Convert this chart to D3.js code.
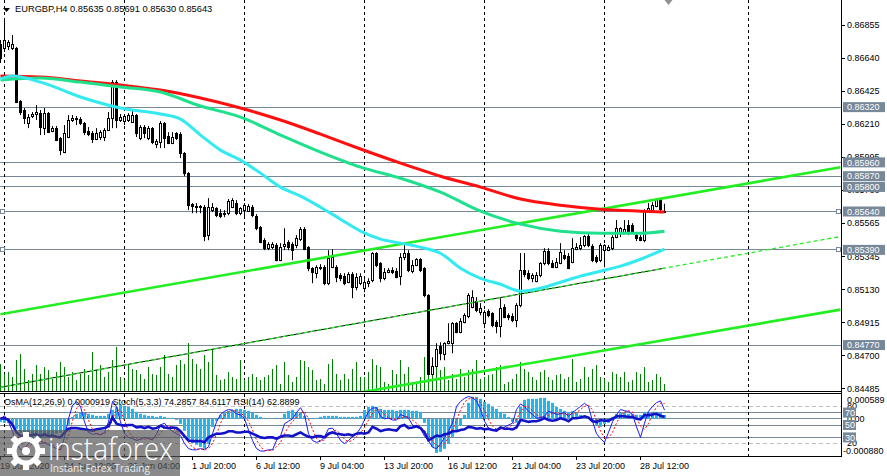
<!DOCTYPE html>
<html>
<head>
<meta charset="utf-8">
<script src="https://d3js.org/d3.v7.min.js"></script>
<style>
  html, body { margin: 0; padding: 0; background: #fff; }
  svg { display: block; }
  text { font-family: 'Liberation Sans', Arial, sans-serif; font-size: 9px; }
  text.title { font-size: 9.3px; }
</style>
</head>
<body>
<div id="app"></div>
<script>
// EURGBP H4 candles, one per bar: [open, high, low, close]
const candles = [
  [0.86731, 0.86757, 0.86607, 0.86640], [0.86705, 0.86901, 0.86679, 0.86757], [0.86712, 0.86757, 0.86692, 0.86738],
  [0.86699, 0.86790, 0.86692, 0.86725], [0.86699, 0.86712, 0.86346, 0.86353], [0.86359, 0.86366, 0.86268, 0.86288],
  [0.86301, 0.86314, 0.86210, 0.86249], [0.86216, 0.86275, 0.86183, 0.86255], [0.86262, 0.86288, 0.86249, 0.86275],
  [0.86275, 0.86333, 0.86236, 0.86288], // 9
  [0.86281, 0.86301, 0.86138, 0.86190], [0.86183, 0.86314, 0.86138, 0.86281], [0.86281, 0.86288, 0.86151, 0.86157],
  [0.86164, 0.86197, 0.86157, 0.86183], [0.86183, 0.86197, 0.86099, 0.86105], [0.86118, 0.86125, 0.86007, 0.86040],
  [0.86027, 0.86203, 0.86020, 0.86151], [0.86125, 0.86268, 0.86118, 0.86236], [0.86236, 0.86268, 0.86223, 0.86249],
  [0.86249, 0.86262, 0.86203, 0.86242], // 19
  [0.86242, 0.86255, 0.86203, 0.86216], [0.86216, 0.86223, 0.86138, 0.86157], [0.86164, 0.86190, 0.86131, 0.86144],
  [0.86151, 0.86164, 0.86086, 0.86112], [0.86112, 0.86183, 0.86105, 0.86151], [0.86125, 0.86170, 0.86105, 0.86157],
  [0.86125, 0.86183, 0.86099, 0.86170], [0.86170, 0.86288, 0.86164, 0.86249], [0.86249, 0.86496, 0.86183, 0.86483],
  [0.86483, 0.86496, 0.86183, 0.86236], // 29
  [0.86236, 0.86275, 0.86223, 0.86255], [0.86229, 0.86275, 0.86203, 0.86262], [0.86236, 0.86281, 0.86223, 0.86268],
  [0.86223, 0.86301, 0.86216, 0.86268], [0.86268, 0.86275, 0.86125, 0.86151], [0.86118, 0.86203, 0.86105, 0.86190],
  [0.86190, 0.86203, 0.86118, 0.86151], [0.86118, 0.86197, 0.86105, 0.86183], [0.86183, 0.86190, 0.86079, 0.86092],
  [0.86079, 0.86112, 0.86053, 0.86099], // 39
  [0.86092, 0.86229, 0.86053, 0.86216], [0.86216, 0.86223, 0.86053, 0.86118], [0.86131, 0.86157, 0.86079, 0.86086],
  [0.86086, 0.86157, 0.86079, 0.86125], [0.86151, 0.86157, 0.86105, 0.86118], [0.86144, 0.86157, 0.85988, 0.86020],
  [0.86020, 0.86027, 0.85870, 0.85890], [0.85890, 0.85897, 0.85649, 0.85682], [0.85688, 0.85695, 0.85629, 0.85675],
  [0.85675, 0.85695, 0.85629, 0.85668], // 49
  [0.85668, 0.85682, 0.85629, 0.85675], [0.85668, 0.85682, 0.85447, 0.85479], [0.85486, 0.85727, 0.85453, 0.85668],
  [0.85649, 0.85695, 0.85636, 0.85668], [0.85662, 0.85668, 0.85603, 0.85616], [0.85629, 0.85655, 0.85597, 0.85610],
  [0.85629, 0.85649, 0.85603, 0.85623], [0.85629, 0.85721, 0.85616, 0.85708], [0.85668, 0.85727, 0.85662, 0.85714],
  [0.85695, 0.85714, 0.85616, 0.85629], // 59
  [0.85629, 0.85668, 0.85616, 0.85662], [0.85649, 0.85695, 0.85603, 0.85682], [0.85642, 0.85688, 0.85636, 0.85675],
  [0.85668, 0.85682, 0.85603, 0.85616], [0.85610, 0.85623, 0.85518, 0.85531], [0.85538, 0.85545, 0.85434, 0.85440],
  [0.85453, 0.85466, 0.85388, 0.85401], [0.85401, 0.85440, 0.85388, 0.85427], [0.85408, 0.85440, 0.85395, 0.85427],
  [0.85421, 0.85434, 0.85316, 0.85323], // 69
  [0.85323, 0.85434, 0.85316, 0.85408], [0.85414, 0.85531, 0.85388, 0.85427], [0.85440, 0.85453, 0.85388, 0.85408],
  [0.85427, 0.85440, 0.85323, 0.85388], [0.85421, 0.85486, 0.85401, 0.85466], [0.85460, 0.85538, 0.85447, 0.85525],
  [0.85525, 0.85538, 0.85388, 0.85395], [0.85408, 0.85414, 0.85251, 0.85271], [0.85271, 0.85277, 0.85173, 0.85245],
  [0.85238, 0.85290, 0.85205, 0.85277], // 79
  [0.85277, 0.85297, 0.85258, 0.85271], [0.85277, 0.85290, 0.85160, 0.85173], [0.85173, 0.85388, 0.85160, 0.85336],
  [0.85277, 0.85395, 0.85271, 0.85343], [0.85277, 0.85290, 0.85179, 0.85212], [0.85225, 0.85238, 0.85186, 0.85205],
  [0.85219, 0.85238, 0.85160, 0.85173], [0.85179, 0.85245, 0.85173, 0.85232], [0.85232, 0.85245, 0.85075, 0.85147],
  [0.85147, 0.85238, 0.85127, 0.85212], // 89
  [0.85173, 0.85238, 0.85160, 0.85219], [0.85140, 0.85199, 0.85114, 0.85179], [0.85173, 0.85205, 0.85147, 0.85186],
  [0.85192, 0.85375, 0.85179, 0.85369], [0.85369, 0.85375, 0.85277, 0.85290], [0.85303, 0.85310, 0.85179, 0.85205],
  [0.85205, 0.85271, 0.85192, 0.85245], [0.85245, 0.85271, 0.85238, 0.85258], [0.85258, 0.85277, 0.85232, 0.85245],
  [0.85251, 0.85271, 0.85205, 0.85212], // 99
  [0.85219, 0.85369, 0.85160, 0.85343], [0.85343, 0.85421, 0.85323, 0.85369], [0.85369, 0.85388, 0.85245, 0.85258],
  [0.85251, 0.85323, 0.85238, 0.85290], [0.85290, 0.85336, 0.85284, 0.85330], [0.85330, 0.85336, 0.85245, 0.85258],
  [0.85271, 0.85277, 0.85082, 0.85095], [0.85095, 0.85101, 0.84573, 0.84580], [0.84580, 0.84690, 0.84573, 0.84632],
  [0.84632, 0.84782, 0.84625, 0.84743], // 109
  [0.84762, 0.84788, 0.84671, 0.84717], [0.84710, 0.84788, 0.84671, 0.84782], [0.84782, 0.84912, 0.84775, 0.84795],
  [0.84782, 0.84919, 0.84717, 0.84912], [0.84912, 0.84919, 0.84847, 0.84853], [0.84853, 0.84945, 0.84847, 0.84925],
  [0.84919, 0.84977, 0.84912, 0.84964], [0.84958, 0.85108, 0.84945, 0.85095], [0.85016, 0.85127, 0.85010, 0.85082],
  [0.85056, 0.85082, 0.84984, 0.84997], // 119
  [0.84984, 0.85043, 0.84964, 0.85010], [0.84912, 0.84997, 0.84880, 0.84984], [0.84990, 0.85003, 0.84951, 0.84964],
  [0.84977, 0.84984, 0.84886, 0.84899], [0.84919, 0.84932, 0.84847, 0.84893], [0.84893, 0.85075, 0.84821, 0.85010],
  [0.85016, 0.85036, 0.84945, 0.84951], [0.84964, 0.84977, 0.84932, 0.84951], [0.84958, 0.84977, 0.84919, 0.84932],
  [0.84932, 0.85043, 0.84886, 0.85030], // 129
  [0.85030, 0.85369, 0.85016, 0.85258], [0.85258, 0.85369, 0.85212, 0.85232], [0.85238, 0.85258, 0.85192, 0.85205],
  [0.85205, 0.85238, 0.85179, 0.85225], [0.85186, 0.85245, 0.85179, 0.85225], [0.85225, 0.85310, 0.85212, 0.85303],
  [0.85303, 0.85401, 0.85290, 0.85382], [0.85382, 0.85401, 0.85290, 0.85303], [0.85303, 0.85323, 0.85271, 0.85277],
  [0.85277, 0.85336, 0.85271, 0.85310], // 139
  [0.85303, 0.85434, 0.85297, 0.85375], [0.85356, 0.85388, 0.85323, 0.85336], [0.85349, 0.85369, 0.85264, 0.85271],
  [0.85310, 0.85466, 0.85303, 0.85401], [0.85395, 0.85434, 0.85388, 0.85408], [0.85401, 0.85473, 0.85388, 0.85421],
  [0.85421, 0.85486, 0.85408, 0.85479], [0.85479, 0.85499, 0.85408, 0.85421], [0.85414, 0.85427, 0.85310, 0.85323],
  [0.85343, 0.85356, 0.85303, 0.85316], // 149
  [0.85323, 0.85434, 0.85310, 0.85421], [0.85388, 0.85427, 0.85277, 0.85421], [0.85388, 0.85421, 0.85382, 0.85408],
  [0.85401, 0.85486, 0.85388, 0.85473], [0.85473, 0.85584, 0.85466, 0.85531], [0.85499, 0.85538, 0.85473, 0.85531],
  [0.85505, 0.85584, 0.85499, 0.85525], [0.85551, 0.85584, 0.85486, 0.85505], [0.85551, 0.85564, 0.85499, 0.85505],
  [0.85486, 0.85505, 0.85447, 0.85466], // 159
  [0.85473, 0.85486, 0.85447, 0.85453], [0.85453, 0.85655, 0.85440, 0.85642], [0.85642, 0.85695, 0.85636, 0.85662],
  [0.85649, 0.85701, 0.85636, 0.85682], [0.85675, 0.85727, 0.85668, 0.85721], [0.85721, 0.85727, 0.85629, 0.85655],
  [0.85635, 0.85691, 0.85630, 0.85643] // 166
];

// tick volume per bar
const volumes = [
  2700, 1700, 1900, 1400, 3100, 3700, 2200, 1100, 1700, 2600, 1700, 2400, 2100, 1200, 1900, 2900, 2400, 1400, 1900, 1100,
  1700, 2200, 1600, 3900, 2100, 2600, 1400, 1900, 3100, 4400, 1400, 1100, 2700, 2200, 2100, 1700, 1200, 2400, 1700, 1600,
  2400, 3600, 1700, 1400, 2600, 3100, 2700, 4800, 3200, 2700, 2200, 3600, 2900, 4100, 1600, 1100, 1200, 1900, 1400, 1200,
  3100, 1100, 1400, 1700, 1400, 1100, 1400, 1600, 2200, 2600, 700, 2900, 1600, 900, 1400, 3100, 3000, 2400, 2100, 1100,
  1200, 700, 2700, 3200, 1700, 1100, 1700, 1200, 2200, 2900, 1400, 1400, 1900, 3200, 2600, 2400, 900, 700, 2100, 1700,
  3100, 1700, 2400, 900, 700, 1400, 3400, 4100, 3100, 2700, 2100, 2400, 1100, 1700, 1200, 2200, 1400, 2100, 2200, 3100,
  1200, 1400, 1600, 1700, 2400, 2600, 700, 900, 1200, 1700, 2900, 2200, 1900, 1400, 1100, 1900, 2100, 1400, 1100, 1600,
  1700, 1200, 1400, 3200, 900, 1200, 2400, 1400, 2200, 2600, 1400, 1200, 900, 1900, 1700, 1400, 1900, 900, 1100, 1900,
  1700, 2400, 900, 1100, 1700, 1400, 700
];

// moving averages, [bar, price]
const maSlow = [
  [0, 0.86522], [10, 0.86516], [20, 0.86490], [30, 0.86464], [40, 0.86431], [50, 0.86379], [60, 0.86314],
  [70, 0.86236], [80, 0.86144], [90, 0.86047], [100, 0.85955], [110, 0.85870], [120, 0.85799], [130, 0.85721],
  [140, 0.85681], [150, 0.85655], [160, 0.85642], [166, 0.85636]
];
const maMid = [
  [0, 0.86496], [10, 0.86509], [20, 0.86483], [30, 0.86451], [40, 0.86418], [50, 0.86327], [60, 0.86255],
  [70, 0.86138], [80, 0.86027], [90, 0.85929], [100, 0.85857], [110, 0.85766], [120, 0.85642], [130, 0.85558],
  [140, 0.85512], [150, 0.85499], [160, 0.85499], [166, 0.85512]
];
const maFast = [
  [0, 0.86503], [3, 0.86522], [10, 0.86483], [20, 0.86386], [30, 0.86314], [40, 0.86275], [45, 0.86242],
  [50, 0.86138], [55, 0.86040], [60, 0.85975], [65, 0.85890], [70, 0.85799], [75, 0.85740], [80, 0.85668],
  [85, 0.85590], [90, 0.85512], [95, 0.85460], [100, 0.85434], [105, 0.85408], [110, 0.85368], [115, 0.85271],
  [120, 0.85205], [125, 0.85166], [130, 0.85121], [135, 0.85140], [140, 0.85179], [145, 0.85219], [150, 0.85251],
  [155, 0.85284], [160, 0.85329], [166, 0.85395]
];

// trend lines, two anchors [bar, price]
const upperTrend = [[0, 0.84971], [166, 0.85728]];
const channelTrend = [[0, 0.84495], [166, 0.85271]];
const lowerTrend = [[93, 0.84475], [166, 0.84803]];

const levels = [0.86320, 0.85960, 0.85870, 0.85800, 0.85640, 0.85390, 0.84770];
const markedLevels = [0.85640, 0.85390];
const priceTicks = [0.86855, 0.86640, 0.86425, 0.86210, 0.85995, 0.85780, 0.85565, 0.85345, 0.85130, 0.84915, 0.84700, 0.84485];

const timeTickBars = [0, 16, 32, 48, 64, 80, 96, 112, 128, 144, 160];
const timeTickLabels = ['19 Jun 2020', '24 Jun 12:00', '29 Jun 04:00', '1 Jul 20:00', '6 Jul 12:00', '9 Jul 04:00',
  '13 Jul 20:00', '16 Jul 12:00', '21 Jul 04:00', '23 Jul 20:00', '28 Jul 12:00'];
const weekBars = [1, 31, 61, 91, 121, 151, 187];

// OsMA(12,26,9) in millionths
const osma = [
  -71, -95, -95, -142, -237, -332, -403, -450, -474, -474, -450, -427, -403, -379, -356, -332, -284, -142, 47, 119,
  142, 142, 119, 95, 71, 71, 71, 119, 213, 284, 332, 308, 284, 237, 166, 119, 95, 71, 71, 47,
  71, 47, 24, 24, -24, -119, -284, -474, -569, -616, -664, -711, -593, -190, -47, 95, 142, 190, 213, 237,
  237, 213, 190, 142, 95, 47, 24, 0, 0, 24, 0, 119, 190, 213, 166, 142, 71, 24, 24, 24,
  47, 71, 71, 71, 71, 47, 47, 47, 47, 47, 71, 213, 284, 308, 284, 237, 213, 213, 213, 190,
  213, 213, 213, 190, 190, 166, -95, -474, -664, -806, -782, -711, -593, -427, -284, -166, 95, 379, 521, 521,
  474, 403, 356, 284, 237, 166, 119, 47, -71, -95, 284, 450, 474, 474, 474, 498, 498, 427, 379, 284,
  237, 190, 166, 190, 142, 95, 71, 47, -71, -142, -190, -119, -95, 47, 119, 142, 142, 119, 119, 95,
  95, 166, 166, 166, 166, 142, 92
];
const stochMain = [
  60, 65, 55, 40, 20, 10, 12, 20, 28, 25, 20, 22, 18, 15, 12, 10, 30, 60, 82, 88,
  80, 55, 38, 35, 36, 34, 38, 55, 88, 80, 55, 36, 30, 28, 25, 27, 30, 28, 26, 35,
  50, 53, 45, 40, 36, 33, 20, 12, 10, 10, 12, 10, 15, 36, 55, 67, 72, 75, 74, 68,
  66, 60, 42, 25, 12, 8, 8, 10, 10, 25, 32, 52, 56, 60, 70, 78, 67, 36, 25, 22,
  24, 31, 44, 45, 36, 25, 20, 25, 31, 36, 45, 58, 72, 77, 78, 64, 60, 61, 58, 58,
  67, 64, 61, 50, 47, 44, 32, 25, 14, 12, 19, 30, 40, 53, 80, 88, 93, 96, 94, 89,
  75, 56, 45, 42, 43, 44, 47, 50, 53, 75, 84, 80, 72, 67, 61, 62, 64, 72, 70, 67,
  68, 70, 64, 70, 75, 80, 85, 80, 56, 36, 28, 22, 38, 55, 66, 75, 73, 72, 67, 47,
  30, 53, 72, 80, 86, 89, 74.29
];
const stochSignal = [
  62, 62, 60, 53, 38, 23, 14, 14, 20, 24, 24, 22, 20, 18, 15, 12, 17, 33, 57, 77,
  83, 74, 58, 43, 36, 35, 36, 42, 60, 74, 74, 57, 40, 31, 28, 27, 27, 28, 28, 30,
  37, 46, 49, 46, 40, 36, 30, 22, 14, 11, 11, 11, 12, 20, 35, 53, 65, 71, 74, 72,
  69, 65, 56, 42, 26, 15, 9, 9, 9, 15, 22, 36, 47, 56, 62, 69, 72, 60, 43, 28,
  24, 26, 33, 40, 42, 35, 27, 23, 25, 31, 37, 46, 58, 69, 76, 73, 67, 62, 60, 59,
  61, 63, 64, 58, 53, 47, 41, 34, 24, 17, 15, 20, 30, 41, 58, 74, 87, 92, 94, 93,
  86, 73, 59, 48, 43, 43, 45, 47, 50, 59, 71, 80, 79, 73, 67, 63, 62, 66, 69, 70,
  68, 68, 67, 68, 70, 75, 80, 82, 74, 57, 40, 29, 29, 38, 53, 65, 71, 73, 71, 62,
  48, 43, 52, 68, 79, 85, 84.61
];
const rsi = [
  60, 61, 58, 50, 38, 33, 31, 33, 34, 35, 32, 35, 32, 33, 31, 30, 38, 44, 45, 45,
  44, 43, 42, 41, 43, 44, 45, 48, 62, 52, 50, 49, 50, 50, 46, 47, 45, 47, 44, 45,
  49, 46, 45, 46, 45, 40, 32, 25, 24, 24, 24, 22, 30, 33, 36, 36, 37, 40, 40, 38,
  38, 39, 39, 36, 33, 30, 29, 30, 30, 28, 31, 33, 33, 32, 35, 38, 34, 31, 30, 32,
  32, 30, 36, 38, 36, 35, 34, 35, 33, 36, 37, 36, 38, 47, 44, 40, 42, 43, 42, 41,
  48, 50, 45, 46, 48, 45, 38, 25, 29, 33, 32, 35, 36, 40, 40, 42, 43, 47, 46, 44,
  45, 43, 44, 42, 41, 46, 44, 44, 43, 46, 58, 57, 55, 56, 56, 58, 61, 58, 57, 58,
  61, 59, 56, 61, 61, 62, 64, 62, 56, 55, 58, 57, 57, 60, 64, 64, 64, 63, 63, 60,
  59, 66, 66, 67, 68, 65, 62.89
];
const oscDashLevels = [80, 20];
const oscSolidLevels = [70, 50, 30];

const mainTitle = 'EURGBP,H4  0.85635 0.85691 0.85630 0.85643';
const oscTitle = 'OsMA(12,26,9) 0.0000919  Stoch(5,3,3) 74.2857 84.6117  RSI(14) 62.8899';

const width = 887;
const height = 476;
const plotRight = 841;
const mainBottom = 391;
const oscTop = 394;
const oscBottom = 456;
const levelColor = '#778899';

const x = d3.scaleLinear().domain([0, 210]).range([0.5, 840.5]);
const yPrice = d3.scaleLinear().domain([0.84485, 0.86855]).range([388.8, 25]);
const yVol = d3.scaleLinear().domain([0, 4800]).range([mainBottom, 343]);
const yOsc = d3.scaleLinear().domain([0, 100]).range([oscBottom, oscTop]);
const yOsma = d3.scaleLinear().domain([-0.00088, 0.000589]).range([oscBottom, oscTop]);
const crisp = (v) => Math.round(v - 0.5) + 0.5;

/**
 * Price of a trend line at a given bar
 */
const trendAt = (line, bar) => {
  const [[b1, p1], [b2, p2]] = line;
  return p1 + ((p2 - p1) / (b2 - b1)) * (bar - b1);
};

const drawMain = (svg) => {
  const g = svg.append('g').attr('clip-path', 'url(#clipMain)');

  // horizontal levels
  g.selectAll('.level')
    .data(levels)
    .enter()
    .append('line')
    .attr('x1', 0)
    .attr('x2', plotRight)
    .attr('y1', (d) => crisp(yPrice(d)))
    .attr('y2', (d) => crisp(yPrice(d)))
    .attr('stroke', levelColor);

  // week separators
  g.selectAll('.week')
    .data(weekBars)
    .enter()
    .append('line')
    .attr('x1', (d) => crisp(x(d)))
    .attr('x2', (d) => crisp(x(d)))
    .attr('y1', 0)
    .attr('y2', mainBottom)
    .attr('stroke', '#000')
    .attr('stroke-dasharray', '3,3');

  // volumes
  g.selectAll('.vol')
    .data(volumes)
    .enter()
    .append('line')
    .attr('x1', (d, i) => crisp(x(i)))
    .attr('x2', (d, i) => crisp(x(i)))
    .attr('y1', yVol(0))
    .attr('y2', (d) => yVol(d))
    .attr('stroke', '#008000');

  // candles
  const c = g.selectAll('.candle').data(candles).enter().append('g');
  c.append('line')
    .attr('x1', (d, i) => crisp(x(i)))
    .attr('x2', (d, i) => crisp(x(i)))
    .attr('y1', (d) => yPrice(d[1]))
    .attr('y2', (d) => yPrice(d[2]))
    .attr('stroke', '#000');
  c.append('rect')
    .attr('x', (d, i) => crisp(x(i)) - 1)
    .attr('width', 2)
    .attr('y', (d) => crisp(yPrice(Math.max(d[0], d[3]))))
    .attr('height', (d) => Math.max(0, crisp(yPrice(Math.min(d[0], d[3]))) - crisp(yPrice(Math.max(d[0], d[3])))))
    .attr('fill', (d) => (d[3] >= d[0] ? '#fff' : '#000'))
    .attr('stroke', '#000');

  // trend lines
  const rightBar = x.domain()[1];
  const seg = (line, from, to) => [[from, trendAt(line, from)], [to, trendAt(line, to)]];
  const lineGen = d3.line().x((d) => x(d[0])).y((d) => yPrice(d[1]));

  g.append('path').attr('d', lineGen(seg(channelTrend, 0, 166)))
    .attr('fill', 'none').attr('stroke', '#000').attr('stroke-width', 1);
  g.append('path').attr('d', lineGen(seg(channelTrend, 0, rightBar)))
    .attr('fill', 'none').attr('stroke', '#22ee22').attr('stroke-width', 1.3).attr('stroke-dasharray', '4,3');
  g.append('path').attr('d', lineGen(seg(upperTrend, 0, rightBar)))
    .attr('fill', 'none').attr('stroke', '#22ee22').attr('stroke-width', 2.6);
  g.append('path').attr('d', lineGen(seg(lowerTrend, lowerTrend[0][0] - 4, rightBar)))
    .attr('fill', 'none').attr('stroke', '#22ee22').attr('stroke-width', 2.6);

  // moving averages
  const maGen = d3.line().x((d) => x(d[0])).y((d) => yPrice(d[1])).curve(d3.curveMonotoneX);
  [[maSlow, '#ff1010'], [maMid, '#1fe08c'], [maFast, '#33eaf0']].forEach(([data, color]) => {
    g.append('path').attr('d', maGen(data)).attr('fill', 'none').attr('stroke', color).attr('stroke-width', 3);
  });

  // end squares on marked levels
  markedLevels.forEach((lv) => {
    [0, plotRight - 5].forEach((sx) => {
      g.append('rect').attr('x', sx + 0.5).attr('y', crisp(yPrice(lv)) - 2).attr('width', 4).attr('height', 4)
        .attr('fill', '#fff').attr('stroke', levelColor);
    });
  });

  // title and markers
  svg.append('path').attr('d', 'M3,8 L10,8 L6.5,12 Z').attr('fill', '#000');
  svg.append('text').attr('class', 'title').attr('x', 15).attr('y', 12).text(mainTitle);
  svg.append('path').attr('d', `M${x(167) - 4},0 L${x(167) + 4},0 L${x(167)},5 Z`).attr('fill', '#909090');
};

const drawOsc = (svg) => {
  const g = svg.append('g').attr('clip-path', 'url(#clipOsc)');

  g.selectAll('.odash')
    .data(oscDashLevels)
    .enter()
    .append('line')
    .attr('x1', 0).attr('x2', plotRight)
    .attr('y1', (d) => crisp(yOsc(d))).attr('y2', (d) => crisp(yOsc(d)))
    .attr('stroke', '#c0c0c0').attr('stroke-dasharray', '4,3');
  g.selectAll('.osolid')
    .data(oscSolidLevels)
    .enter()
    .append('line')
    .attr('x1', 0).attr('x2', plotRight)
    .attr('y1', (d) => crisp(yOsc(d))).attr('y2', (d) => crisp(yOsc(d)))
    .attr('stroke', levelColor);
  g.append('line').attr('x1', 0).attr('x2', plotRight)
    .attr('y1', crisp(yOsma(0))).attr('y2', crisp(yOsma(0))).attr('stroke', levelColor);

  g.selectAll('.week')
    .data(weekBars)
    .enter()
    .append('line')
    .attr('x1', (d) => crisp(x(d))).attr('x2', (d) => crisp(x(d)))
    .attr('y1', oscTop).attr('y2', oscBottom)
    .attr('stroke', '#000').attr('stroke-dasharray', '3,3');

  // OsMA histogram
  g.selectAll('.hist')
    .data(osma)
    .enter()
    .append('rect')
    .attr('x', (d, i) => crisp(x(i)) - 1.5)
    .attr('width', 3)
    .attr('y', (d) => yOsma(Math.max(0, d / 1e6)))
    .attr('height', (d) => Math.abs(yOsma(d / 1e6) - yOsma(0)))
    .attr('fill', '#22b6ef');

  const oscLine = d3.line().x((d, i) => x(i)).y((d) => yOsc(d));
  g.append('path').attr('d', oscLine(stochMain)).attr('fill', 'none').attr('stroke', '#1a1aff').attr('stroke-width', 1);
  g.append('path').attr('d', oscLine(stochSignal)).attr('fill', 'none').attr('stroke', '#ff0000')
    .attr('stroke-width', 1).attr('stroke-dasharray', '2,2');
  g.append('path').attr('d', oscLine(rsi)).attr('fill', 'none').attr('stroke', '#1212c8').attr('stroke-width', 2.6);

  svg.append('text').attr('x', 4).attr('y', 405).text(oscTitle);
};

const drawAxes = (svg) => {
  // frame lines
  svg.append('line').attr('x1', 0).attr('x2', plotRight + 1).attr('y1', mainBottom + 0.5).attr('y2', mainBottom + 0.5).attr('stroke', '#000');
  svg.append('line').attr('x1', 0).attr('x2', plotRight + 1).attr('y1', oscTop - 0.5).attr('y2', oscTop - 0.5).attr('stroke', '#000');
  svg.append('line').attr('x1', 0).attr('x2', plotRight + 1).attr('y1', oscBottom + 0.5).attr('y2', oscBottom + 0.5).attr('stroke', '#000');
  svg.append('line').attr('x1', plotRight + 0.5).attr('x2', plotRight + 0.5).attr('y1', 0).attr('y2', oscBottom + 1).attr('stroke', '#000');

  // price ticks
  svg.selectAll('.ptick')
    .data(priceTicks)
    .enter()
    .append('line')
    .attr('x1', plotRight + 1).attr('x2', plotRight + 4)
    .attr('y1', (d) => crisp(yPrice(d))).attr('y2', (d) => crisp(yPrice(d)))
    .attr('stroke', '#000');
  svg.selectAll('.plabel')
    .data(priceTicks)
    .enter()
    .append('text')
    .attr('x', 847)
    .attr('y', (d) => yPrice(d))
    .attr('dy', '0.35em')
    .text((d) => d.toFixed(5));

  // level boxes
  const lb = svg.selectAll('.lbox').data(levels).enter().append('g');
  lb.append('rect').attr('x', 843).attr('width', 42).attr('y', (d) => yPrice(d) - 5).attr('height', 10).attr('fill', levelColor);
  lb.append('text').attr('x', 847).attr('y', (d) => yPrice(d)).attr('dy', '0.35em').attr('fill', '#fff').text((d) => d.toFixed(5));

  // oscillator scale
  svg.append('text').attr('x', 847).attr('y', 400).attr('dy', '0.35em').text('0.000589');
  [80, 20].forEach((v) => svg.append('text').attr('x', 847).attr('y', yOsc(v) - 1).attr('dy', '0.35em').text(v));
  svg.append('text').attr('x', 847).attr('y', yOsma(0)).attr('dy', '0.35em').text('0.00');
  svg.append('text').attr('x', 843).attr('y', 451).attr('dy', '0.35em').text('-0.000880');
  oscSolidLevels.forEach((v) => {
    svg.append('rect').attr('x', 843).attr('y', yOsc(v) - 5).attr('width', 13).attr('height', 10).attr('fill', levelColor);
    svg.append('text').attr('x', 845).attr('y', yOsc(v)).attr('dy', '0.35em').attr('fill', '#fff').text(v);
  });

  // time axis
  timeTickBars.forEach((b, i) => {
    svg.append('line').attr('x1', crisp(x(b))).attr('x2', crisp(x(b))).attr('y1', oscBottom + 1).attr('y2', oscBottom + 4).attr('stroke', '#000');
    svg.append('text').attr('x', x(b) - 0.5).attr('y', 469).text(timeTickLabels[i]);
  });
};

const drawWatermark = (svg) => {
  const w = svg.append('g');
  w.append('path').attr('d', 'M0,430 L176,430 Q180,430 180,434 L180,476 L0,476 Z').attr('fill', 'rgba(85,85,85,0.69)');
  const gear = w.append('g').attr('transform', 'translate(26,451)');
  gear.append('circle').attr('r', 12).attr('fill', 'none').attr('stroke', '#fff').attr('stroke-width', 5);
  d3.range(8).forEach((i) => {
    gear.append('rect').attr('x', -3).attr('y', -19).attr('width', 6).attr('height', 6)
      .attr('fill', '#fff').attr('transform', `rotate(${i * 45})`);
  });
  gear.append('circle').attr('r', 4).attr('fill', '#fff');
  w.append('text').attr('x', 48).attr('y', 460).attr('fill', '#fff')
    .attr('textLength', 125).attr('lengthAdjust', 'spacingAndGlyphs')
    .style('font-family', "'Open Sans', sans-serif").style('font-weight', 300).style('font-size', '31px')
    .text('instaforex');
  w.append('text').attr('x', 50).attr('y', 472).attr('fill', '#eee')
    .attr('textLength', 100).attr('lengthAdjust', 'spacingAndGlyphs')
    .style('font-family', "'Open Sans', sans-serif").style('font-size', '11px')
    .text('Instant Forex Trading');
};

const bootstrap = () => {
  const svg = d3.select('#app').append('svg').attr('width', width).attr('height', height);
  svg.append('rect').attr('width', width).attr('height', height).attr('fill', '#fff');
  const defs = svg.append('defs');
  defs.append('clipPath').attr('id', 'clipMain').append('rect').attr('x', 0).attr('y', 0).attr('width', plotRight).attr('height', mainBottom);
  defs.append('clipPath').attr('id', 'clipOsc').append('rect').attr('x', 0).attr('y', oscTop).attr('width', plotRight).attr('height', oscBottom - oscTop);

  drawMain(svg);
  drawOsc(svg);
  drawAxes(svg);
  drawWatermark(svg);
};

if (document.readyState != 'loading') {
  bootstrap();
} else {
  document.addEventListener('DOMContentLoaded', bootstrap);
}
</script>
</body>
</html>
